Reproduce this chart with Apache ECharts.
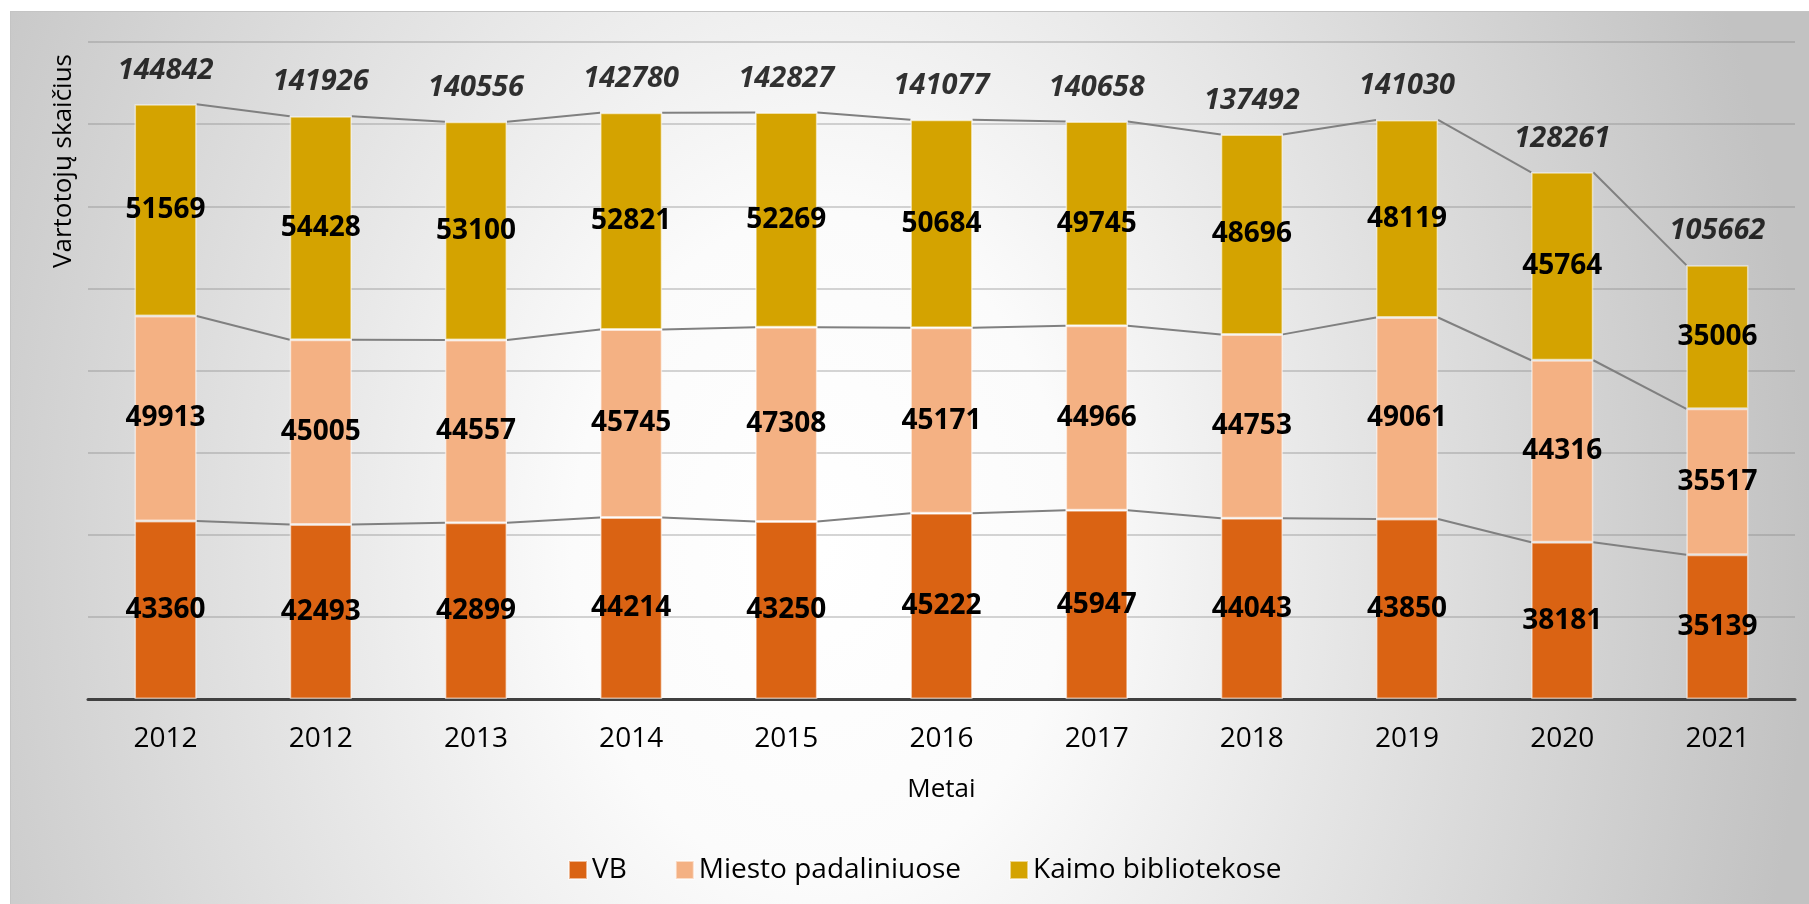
<!DOCTYPE html>
<html>
<head>
<meta charset="utf-8">
<title>Vartotojų skaičius</title>
<script src="https://cdn.jsdelivr.net/npm/echarts@6/dist/echarts.min.js"></script>
<style>
  html, body { margin: 0; padding: 0; background: #ffffff; }
  #chart {
    position: absolute;
    left: 10px;
    top: 11px;
    width: 1799px;
    height: 893px;
    border-top: 1px solid #c4c4c4;
    border-left: 1px solid #c4c4c4;
    background: radial-gradient(ellipse 55% 150% at 45% 60%, #ffffff 0%, #fbfbfb 25%, #c2c2c2 100%);
  }
</style>
</head>
<body>
<div id="chart"></div>
<script>
  // duomenys
  var years = ['2012', '2012', '2013', '2014', '2015', '2016', '2017', '2018', '2019', '2020', '2021'];
  var vb = [43360, 42493, 42899, 44214, 43250, 45222, 45947, 44043, 43850, 38181, 35139];
  var miesto = [49913, 45005, 44557, 45745, 47308, 45171, 44966, 44753, 49061, 44316, 35517];
  var kaimo = [51569, 54428, 53100, 52821, 52269, 50684, 49745, 48696, 48119, 45764, 35006];
  var totals = [144842, 141926, 140556, 142780, 142827, 141077, 140658, 137492, 141030, 128261, 105662];

  var FONT = '"Open Sans", "Noto Sans", sans-serif';
  var BAR_W = 0.4;

  // sukauptos reikšmės jungiamosioms linijoms
  var level1 = vb.slice();
  var level2 = vb.map(function (v, i) { return v + miesto[i]; });
  var levels = [level1, level2, totals];

  var chart = echarts.init(document.getElementById('chart'), null, { renderer: 'canvas' });

  var segLabel = {
    show: true,
    position: 'inside',
    color: '#000',
    fontFamily: FONT,
    fontWeight: 'bold',
    fontSize: 28
  };

  function barSeries(name, data, color) {
    return {
      name: name,
      type: 'bar',
      stack: 'total',
      barWidth: (BAR_W * 100) + '%',
      data: data,
      itemStyle: {
        color: color,
        borderColor: 'rgba(255,255,255,0.55)',
        borderWidth: 1.5
      },
      label: segLabel,
      z: 3
    };
  }

  var option = {
    animation: false,
    backgroundColor: 'transparent',
    textStyle: { fontFamily: FONT },
    grid: {
      left: 77,
      right: 15,
      top: 30,
      bottom: 206
    },
    legend: {
      left: 552,
      top: 839,
      itemWidth: 18,
      itemHeight: 18,
      itemGap: 48,
      icon: 'rect',
      data: ['VB', 'Miesto padaliniuose', 'Kaimo bibliotekose'],
      textStyle: {
        fontFamily: FONT,
        fontSize: 28,
        color: '#000'
      }
    },
    xAxis: {
      type: 'category',
      data: years,
      name: 'Metai',
      nameLocation: 'middle',
      nameGap: 78,
      nameTextStyle: { fontFamily: FONT, fontSize: 26, color: '#000' },
      axisTick: { show: false },
      axisLine: { lineStyle: { color: '#404040', width: 3 } },
      axisLabel: {
        fontFamily: FONT,
        fontSize: 28,
        color: '#000',
        margin: 26,
        interval: 0
      }
    },
    yAxis: {
      type: 'value',
      min: 0,
      max: 160000,
      interval: 20000,
      axisLabel: { show: false },
      axisLine: { show: false },
      axisTick: { show: false },
      splitLine: { lineStyle: { color: 'rgba(130,130,130,0.45)', width: 1.5 } }
    },
    graphic: [{
      type: 'text',
      left: 40,
      top: 42,
      rotation: Math.PI / 2,
      style: {
        text: 'Vartotojų skaičius',
        fontFamily: FONT,
        fontSize: 26,
        fill: '#000'
      }
    }],
    series: [
      barSeries('VB', vb, '#DA6313'),
      barSeries('Miesto padaliniuose', miesto, '#F4B183'),
      barSeries('Kaimo bibliotekose', kaimo, '#D4A300'),
      {
        // sumos virš stulpelių
        name: 'Iš viso',
        type: 'scatter',
        data: totals,
        symbolSize: 1,
        itemStyle: { color: 'rgba(0,0,0,0)' },
        label: {
          show: true,
          position: 'top',
          distance: 19,
          color: '#000',
          fontFamily: '"Noto Sans", "Open Sans", sans-serif',
          fontWeight: 'bold',
          fontStyle: 'italic',
          fontSize: 29
        },
        silent: true,
        z: 5
      },
      {
        // jungiamosios linijos tarp stulpelių
        name: 'linijos',
        type: 'custom',
        data: years.slice(1).map(function (y, i) { return [i, totals[i]]; }),
        renderItem: function (params, api) {
          var i = api.value(0);
          var half = api.size([1, 0])[0] * BAR_W / 2;
          var children = levels.map(function (lv) {
            var a = api.coord([i, lv[i]]);
            var b = api.coord([i + 1, lv[i + 1]]);
            return {
              type: 'line',
              shape: { x1: a[0] + half, y1: a[1], x2: b[0] - half, y2: b[1] },
              style: { stroke: '#808080', lineWidth: 2 }
            };
          });
          return { type: 'group', children: children };
        },
        silent: true,
        z: 2
      }
    ]
  };

  chart.setOption(option);
</script>
</body>
</html>
